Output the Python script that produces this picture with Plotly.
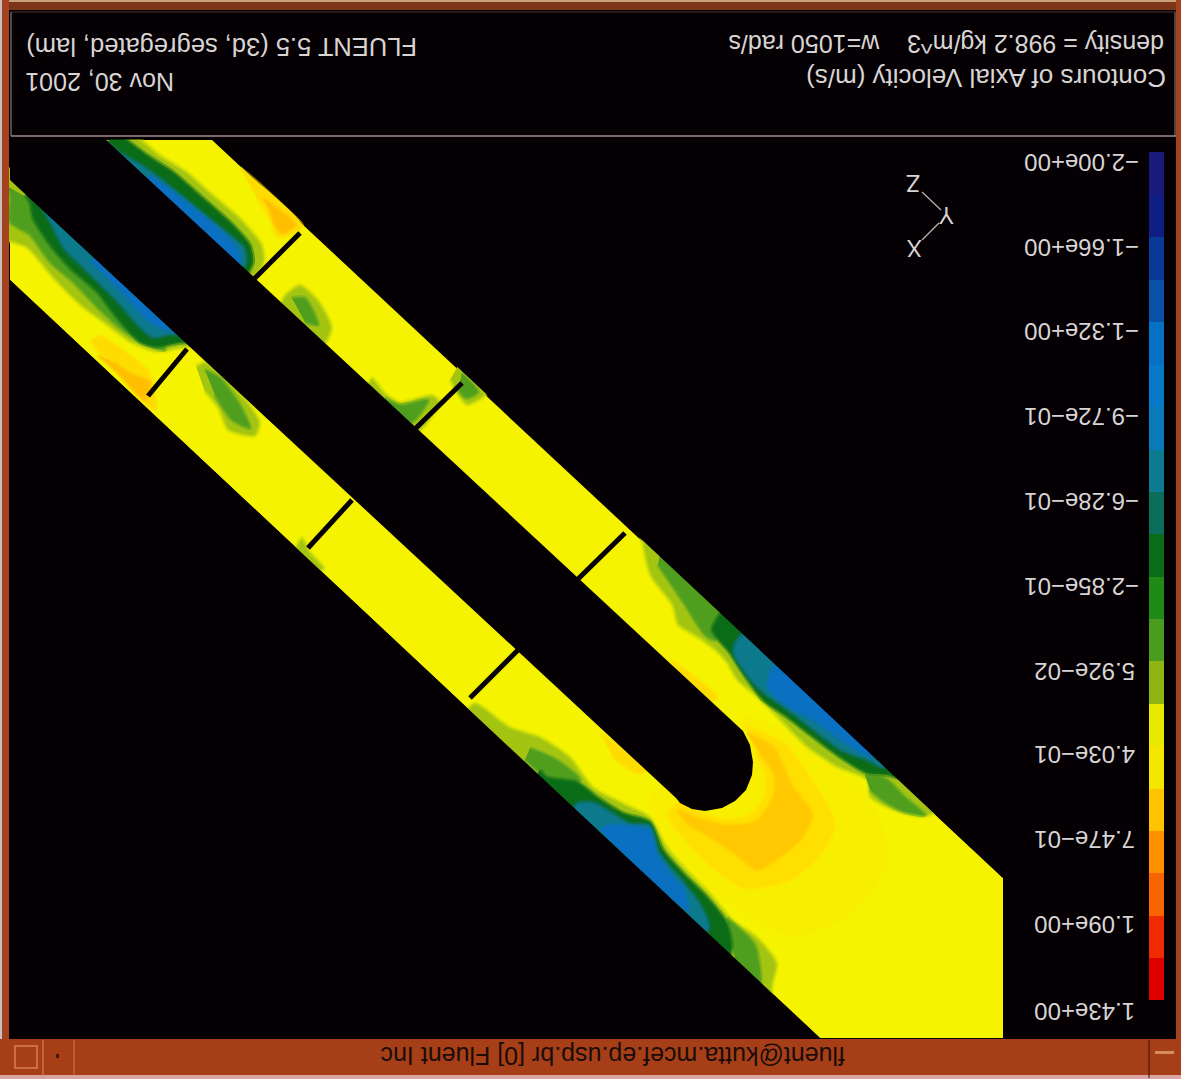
import plotly.graph_objects as go

# ---------- colour legend ----------
legend_edges = [152,195,237,280,322,365,407,450,492,534,577,619,661,704,746,789,831,873,916,958,1000]
legend_levels = [-1.91,-1.74,-1.57,-1.40,-1.23,-1.06,-0.89,-0.72,-0.54,-0.37,-0.20,-0.03,0.14,0.31,0.49,0.66,0.83,1.00,1.17,1.34]
legend_colors = ["#1a1a7a","#0e1e82","#0a3a98","#0a50a8","#0670c4","#0878c8","#0a7ab8","#0c7a90","#0a6e5a","#0a6c18",
                 "#1f8a16","#4a9c1e","#90b414","#e8e800","#f5e600","#ffc400","#ff9000","#f86400","#ee2c00","#de0000"]
tick_labels = ["\u22122.00e+00","\u22121.66e+00","\u22121.32e+00","\u22129.72e\u221201","\u22126.28e\u221201","\u22122.85e\u221201",
               "5.92e\u221202","4.03e\u221201","7.47e\u221201","1.09e+00","1.43e+00"]
tick_y = [163,248,332,417,502,587,672,755,840,925,1012]
tick_x = [1082,1082,1082,1082,1082,1082,1085,1085,1085,1085,1085]

# ---------- flow geometry ----------
domain = [(105,140),(212,140),(1003,878),(1003,1038),(820,1038),(10,280),(10,180)]
hub = [(105,139),(743,731),(750,745),(753,762),(752,775),(746,790),(735,801),(722,808),(705,811),(692,809),(680,803),(676,798),
       (10,180),(10,139)]
mask_upper = [(212,137),(1003,878),(1003,1038),(1030,1038),(1030,860),(250,137)]
mask_lower = [(10,280),(820,1038),(10,1038)]
mask_top = [(10,115),(320,115),(320,139.5),(10,139.5)]
blades = [[(300,233),(254,279)],[(462,383),(414,430)],[(625,533),(577,580)],
          [(187,349),(148,396)],[(352,500),(308,548)],[(518,650),(470,698)]]

tip_halo = [(745,715),(810,745),(870,800),(888,860),(850,915),(790,935),(730,905),(680,860),(650,800),(700,760)]
tip_gold = [(745,725),(785,745),(815,785),(835,825),(820,855),(790,880),(745,888),(710,865),(668,815),(680,803),
            (705,815),(730,820),(752,814),(765,795),(765,775),(755,752)]
tip_orange = [(747,733),(773,747),(793,787),(812,815),(800,840),(757,870),(743,860),(720,843),(687,823),(678,810),
              (697,818),(727,825),(755,822),(772,800),(775,777),(760,753)]
gold_edges = [
    [(670,660),(717,697),(707,703),(680,673)],
    [(600,733),(647,770),(637,773),(613,757)],
    [(90,340),(155,410),(153,385),(147,370),(125,352),(100,335)],
    [(240,168),(302,226),(287,236),(277,236),(270,218),(257,198)],
]
orange_edges = [
    [(98,355),(120,375),(145,400),(150,382),(133,375),(113,362)],
    [(263,198),(295,225),(283,233),(277,228),(270,212)],
]

lime_patches = [
    [(5,165),(5,238),(27,248),(53,278),(80,305),(107,325),(130,342),(157,352),(180,348),(195,345),(60,195)],
    [(120,135),(138,138),(160,155),(187,172),(213,195),(240,218),(262,245),(264,262),(253,278),(240,280),(90,150)],
    [(280,305),(285,295),(300,285),(318,300),(332,328),(322,350)],
    [(365,392),(372,378),(385,393),(400,402),(432,395),(440,402),(415,435),(390,425)],
    [(458,366),(470,378),(486,394),(467,405),(456,392),(450,380)],
    [(196,366),(205,362),(222,375),(250,405),(260,423),(255,436),(228,430),(218,408),(205,392)],
    [(295,548),(302,538),(310,552),(324,568),(315,575)],
    [(640,530),(650,575),(672,605),(678,625),(697,637),(715,650),(727,663),(737,680),(757,697),(780,720),(807,747),
     (837,767),(867,780),(870,797),(893,810),(923,817),(940,812),(950,815),(800,678),(665,550)],
    [(465,712),(475,703),(510,727),(540,737),(570,757),(593,787),(623,803),(650,817),(667,847),(687,870),(710,893),
     (733,920),(757,937),(777,963),(773,983),(770,1000),(755,1000)],
]
green_patches = [
    [(5,185),(10,195),(10,222),(30,235),(50,262),(73,282),(100,310),(125,332),(150,345),(165,350),(40,205)],
    [(292,298),(305,298),(318,325),(305,322)],
    [(205,370),(220,378),(240,405),(250,428),(232,420),(215,395)],
    [(385,398),(400,405),(428,400),(412,422),(395,412)],
    [(462,373),(478,392),(466,398),(458,390)],
    [(658,565),(675,590),(685,605),(705,635),(715,640),(722,618),(690,580),(660,555)],
    [(865,775),(885,778),(905,797),(925,815),(905,812),(885,802),(870,790)],
    [(530,748),(557,760),(580,780),(565,790),(525,760)],
    [(727,918),(755,945),(760,985),(735,960)],
]
dark_patches = [
    [(25,195),(30,203),(33,218),(50,245),(70,268),(97,292),(117,318),(140,342),(157,347),(177,343),(195,340),(60,195)],
    [(120,135),(127,140),(147,155),(173,172),(203,198),(230,222),(250,245),(253,262),(248,273),(240,280),(90,150)],
    [(725,600),(720,613),(712,630),(730,653),(743,673),(763,700),(787,717),(813,737),(840,757),(867,773),(888,775),(900,778),(905,770)],
    [(540,770),(547,777),(577,782),(597,797),(623,813),(650,822),(663,850),(683,873),(707,897),(727,923),(732,947),(725,965),(530,785)],
]
teal_patches = [
    [(40,205),(50,223),(63,248),(90,275),(117,302),(140,328),(153,338),(170,335),(195,335),(70,200)],
    [(105,140),(117,150),(147,168),(173,188),(200,210),(227,232),(245,248),(246,265),(235,270),(90,150)],
    [(750,625),(735,642),(733,653),(750,680),(763,693),(787,710),(813,730),(840,750),(870,762),(882,768),(895,762)],
    [(570,815),(577,803),(593,802),(613,813),(630,823),(650,825),(660,853),(680,877),(700,903),(710,927),(702,940)],
]
blue_patches = [
    [(90,260),(120,290),(150,322),(175,332),(185,325),(110,250)],
    [(150,175),(190,205),(235,245),(240,262),(220,262),(140,185)],
    [(790,660),(773,667),(768,687),(783,703),(813,720),(837,737),(860,752),(885,760)],
    [(600,830),(607,825),(640,827),(650,830),(657,853),(673,877),(683,887),(688,910),(640,870)],
]

# ---------- texts ----------
title_text = "fluent@kutta.mcef.ep.usp.br [0] Fluent Inc"
header_left = ["Contours of Axial Velocity (m/s)", "density = 998.2 kg/m^3    w=1050 rad/s"]
header_right = ["FLUENT 5.5 (3d, segregated, lam)", "Nov 30, 2001"]
triad_lines = [[(922,192),(941,210)],[(939,223),(922,240)]]


def polygon(points, color, edge=None, smooth=True):
    line = dict(color=edge or color, width=4 if edge else 0)
    if smooth:
        line.update(shape="spline", smoothing=0.7)
    return go.Scatter(
        x=[p[0] for p in points], y=[p[1] for p in points], mode="lines", fill="toself",
        fillcolor=color, line=line, hoverinfo="skip", showlegend=False)


def segment(points, color, width):
    return go.Scatter(
        x=[p[0] for p in points], y=[p[1] for p in points], mode="lines",
        line=dict(color=color, width=width), hoverinfo="skip", showlegend=False)


fig = go.Figure()
fig.add_trace(polygon(domain, "#f6f300", smooth=False))
fig.add_trace(polygon(tip_halo, "#f8ef00", "rgba(248,240,0,0.5)"))
fig.add_trace(polygon(tip_gold, "#ffdf00", "rgba(255,225,0,0.5)"))
fig.add_trace(polygon(tip_orange, "#ffc800", "rgba(255,205,0,0.5)"))
for p in gold_edges:
    fig.add_trace(polygon(p, "#ffdc00", "rgba(255,222,0,0.5)"))
for p in orange_edges:
    fig.add_trace(polygon(p, "#ffbe00", "rgba(255,195,0,0.5)"))
for p in lime_patches:
    fig.add_trace(polygon(p, "#a4c412", "rgba(205,222,8,0.55)"))
for p in green_patches:
    fig.add_trace(polygon(p, "#4f9e1e", "rgba(90,165,30,0.5)"))
for p in dark_patches:
    fig.add_trace(polygon(p, "#0a6c16", "rgba(30,120,25,0.55)"))
for p in teal_patches:
    fig.add_trace(polygon(p, "#0c7a8c", "rgba(12,110,90,0.5)"))
for p in blue_patches:
    fig.add_trace(polygon(p, "#0a70c2", "rgba(10,112,180,0.5)"))
fig.add_trace(polygon(hub, "#050003", smooth=False))
fig.add_trace(polygon(mask_upper, "#050003", smooth=False))
fig.add_trace(polygon(mask_lower, "#050003", smooth=False))
fig.add_trace(polygon(mask_top, "#050003", smooth=False))
for b in blades:
    fig.add_trace(segment(b, "#050003", 5))
for t in triad_lines:
    fig.add_trace(segment(t, "#b8b4b4", 1.2))

fig.add_trace(go.Bar(
    x=[1156.5] * len(legend_levels), base=legend_edges[:-1],
    y=[b - a for a, b in zip(legend_edges[:-1], legend_edges[1:])],
    width=15, marker=dict(color=legend_colors, line=dict(width=0)),
    customdata=legend_levels, hoverinfo="skip", showlegend=False))


def upside_down(text, x, y, size, color="#d8d4d4", family="Liberation Sans"):
    fig.add_annotation(x=x, y=y, text=text, textangle=180, showarrow=False, xref="x", yref="y",
                       xanchor="center", yanchor="middle",
                       font=dict(size=size, color=color, family=family))


for label, lx, ly in zip(tick_labels, tick_x, tick_y):
    upside_down(label, lx, ly, 24)
upside_down(header_left[0], 986, 78, 26)
upside_down(header_left[1], 946, 44, 25)
upside_down(header_right[0], 222, 47, 25.5)
upside_down(header_right[1], 100, 82, 25)
upside_down(title_text, 613, 1056, 25, color="#1c0c08")
upside_down("Z", 913, 183, 23)
upside_down("Y", 947, 215, 23)
upside_down("X", 915, 248, 23)


def rect(x0, y0, x1, y1, color):
    return dict(type="rect", xref="x", yref="y", x0=x0, y0=y0, x1=x1, y1=y1,
                fillcolor=color, line=dict(width=0), layer="above")


def rule(x0, y0, x1, y1, color, width=1):
    return dict(type="line", xref="x", yref="y", x0=x0, y0=y0, x1=x1, y1=y1,
                line=dict(color=color, width=width), layer="above")


chrome = [
    rect(0, 0, 1181, 10, "#7c3518"), rect(0, 0, 1181, 2, "#c8a078"),
    rect(0, 0, 9, 1079, "#a4421f"), rect(0, 0, 2, 1079, "#c8c0c0"),
    rect(1176, 0, 1181, 1079, "#a4421f"),
    rect(0, 1039, 1181, 1075, "#a63f18"), rect(0, 1075, 1181, 1079, "#d8a4a4"),
    rule(11, 12, 11, 136, "#9c9494"), rule(11, 136, 1176, 136, "#a08c8c", 1.5),
    rule(1175, 12, 1175, 136, "#8c8488"), rule(11, 12, 1176, 12, "#503028"),
    rule(43, 1040, 43, 1078, "#e08a60"), rule(74, 1040, 74, 1075, "#d87a50"),
    rule(1149, 1040, 1149, 1078, "#3a1408"),
    dict(type="rect", xref="x", yref="y", x0=15, y0=1046, x1=37, y1=1068,
         fillcolor="#a63f18", line=dict(color="#d88050", width=1.5), layer="above"),
    rect(56, 1054, 59, 1058, "#401808"),
    rect(1155, 1051, 1174, 1054, "#d88a60"),
]

fig.update_layout(
    width=1181, height=1079, margin=dict(l=0, r=0, t=0, b=0),
    paper_bgcolor="#050003", plot_bgcolor="#050003", showlegend=False, shapes=chrome,
    xaxis=dict(range=[0, 1181], visible=False, fixedrange=True),
    yaxis=dict(range=[1079, 0], visible=False, fixedrange=True),
)
fig.write_html("out.html", config={"displayModeBar": False},
               post_script="document.body.style.margin='0';document.body.style.background='#050003';")
